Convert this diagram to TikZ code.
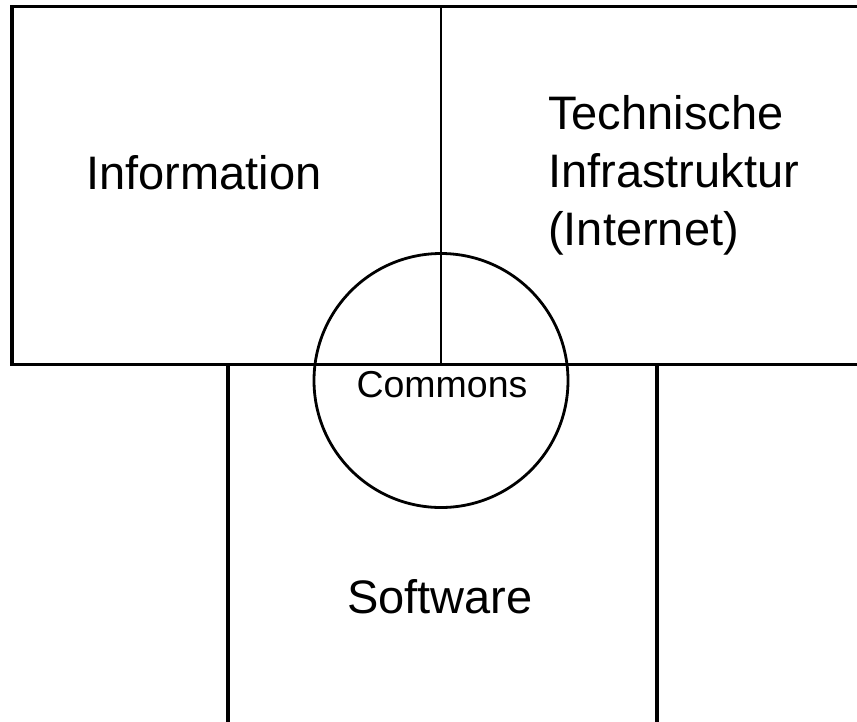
\documentclass[tikz,border=0pt]{standalone}
\usepackage{fontspec}
\setmainfont{Liberation Sans}
\begin{document}
\begin{tikzpicture}[x=1pt,y=-1pt,
  border/.style={line width=3.2pt,black},
  inner line/.style={line width=2.8pt,black},
  big/.style={inner sep=0pt,font=\fontsize{47}{58}\selectfont},
  small/.style={inner sep=0pt,font=\fontsize{37.5}{45}\selectfont}]
\useasboundingbox (0,0) rectangle (857,721);
% frame
\draw[border] (860,6.5) -- (12,6.5) -- (12,364.5) -- (860,364.5);
\draw[inner line] (441,6.5) -- (441,364.5);
\draw[border] (228,364.5) -- (228,725);
\draw[border] (657,364.5) -- (657,725);
% circle
\draw[line width=2.8pt] (441,380.5) circle[radius=127];
% texts
\node[big,anchor=base] (info) at (204,189) {Information};
\node[big,anchor=base west] (tech1) at (548,129) {Technische};
\node[big,anchor=base west] (tech2) at (548,187) {Infrastruktur};
\node[big,anchor=base west] (tech3) at (548,245) {(Internet)};
\node[small,anchor=base] (commons) at (442,397) {Commons};
\node[big,anchor=base] (soft) at (440,613) {Software};
\end{tikzpicture}
\end{document}
